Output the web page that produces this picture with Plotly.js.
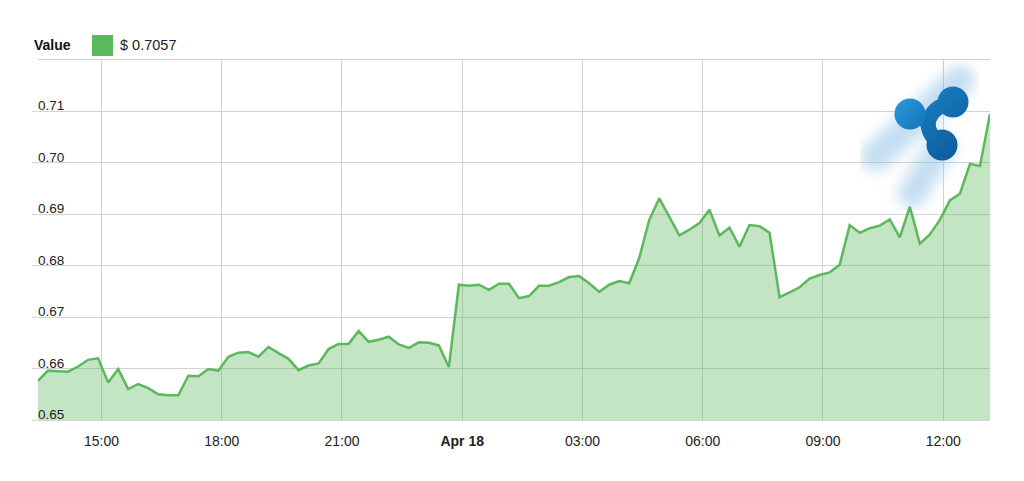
<!DOCTYPE html>
<html>
<head>
<meta charset="utf-8">
<script src="https://cdn.plot.ly/plotly-3.0.1.min.js"></script>
<style>
  html, body { margin: 0; padding: 0; background: #ffffff; }
  #chart { width: 1024px; height: 481px; }
</style>
</head>
<body>
<div id="chart"></div>
<script>
// ---- Data (XRP price in USD, 15-minute samples) ----
const times = [
  "2018-04-17 13:25","2018-04-17 13:40","2018-04-17 13:55","2018-04-17 14:10","2018-04-17 14:25","2018-04-17 14:40","2018-04-17 14:55","2018-04-17 15:10","2018-04-17 15:25","2018-04-17 15:40",
  "2018-04-17 15:55","2018-04-17 16:10","2018-04-17 16:25","2018-04-17 16:40","2018-04-17 16:55","2018-04-17 17:10","2018-04-17 17:25","2018-04-17 17:40","2018-04-17 17:55","2018-04-17 18:10",
  "2018-04-17 18:25","2018-04-17 18:40","2018-04-17 18:55","2018-04-17 19:10","2018-04-17 19:25","2018-04-17 19:40","2018-04-17 19:55","2018-04-17 20:10","2018-04-17 20:25","2018-04-17 20:40",
  "2018-04-17 20:55","2018-04-17 21:10","2018-04-17 21:25","2018-04-17 21:40","2018-04-17 21:55","2018-04-17 22:10","2018-04-17 22:25","2018-04-17 22:40","2018-04-17 22:55","2018-04-17 23:10",
  "2018-04-17 23:25","2018-04-17 23:40","2018-04-17 23:55","2018-04-18 00:10","2018-04-18 00:25","2018-04-18 00:40","2018-04-18 00:55","2018-04-18 01:10","2018-04-18 01:25","2018-04-18 01:40",
  "2018-04-18 01:55","2018-04-18 02:10","2018-04-18 02:25","2018-04-18 02:40","2018-04-18 02:55","2018-04-18 03:10","2018-04-18 03:25","2018-04-18 03:40","2018-04-18 03:55","2018-04-18 04:10",
  "2018-04-18 04:25","2018-04-18 04:40","2018-04-18 04:55","2018-04-18 05:10","2018-04-18 05:25","2018-04-18 05:40","2018-04-18 05:55","2018-04-18 06:10","2018-04-18 06:25","2018-04-18 06:40",
  "2018-04-18 06:55","2018-04-18 07:10","2018-04-18 07:25","2018-04-18 07:40","2018-04-18 07:55","2018-04-18 08:10","2018-04-18 08:25","2018-04-18 08:40","2018-04-18 08:55","2018-04-18 09:10",
  "2018-04-18 09:25","2018-04-18 09:40","2018-04-18 09:55","2018-04-18 10:10","2018-04-18 10:25","2018-04-18 10:40","2018-04-18 10:55","2018-04-18 11:10","2018-04-18 11:25","2018-04-18 11:40",
  "2018-04-18 11:55","2018-04-18 12:10","2018-04-18 12:25","2018-04-18 12:40","2018-04-18 12:55","2018-04-18 13:10"
];
const values = [
  0.6576,0.6596,0.6595,0.6594,0.6604,0.6617,0.6620,0.6573,0.6599,0.6560,
  0.6570,0.6562,0.6550,0.6548,0.6548,0.6586,0.6585,0.6599,0.6596,0.6623,
  0.6631,0.6632,0.6623,0.6642,0.6630,0.6619,0.6597,0.6606,0.6610,0.6638,
  0.6648,0.6648,0.6673,0.6652,0.6656,0.6662,0.6647,0.6640,0.6651,0.6650,
  0.6645,0.6603,0.6763,0.6761,0.6763,0.6753,0.6765,0.6765,0.6737,0.6741,
  0.6761,0.6761,0.6768,0.6778,0.6780,0.6766,0.6749,0.6763,0.6770,0.6766,
  0.6815,0.6889,0.6931,0.6896,0.6859,0.6870,0.6883,0.6909,0.6859,0.6874,
  0.6837,0.6879,0.6877,0.6864,0.6739,0.6748,0.6758,0.6775,0.6782,0.6787,
  0.6802,0.6879,0.6864,0.6873,0.6878,0.6890,0.6855,0.6915,0.6843,0.6861,
  0.6889,0.6927,0.6940,0.6998,0.6994,0.7095
];
const xTickVals = ["2018-04-17 15:00","2018-04-17 18:00","2018-04-17 21:00","2018-04-18 00:00","2018-04-18 03:00","2018-04-18 06:00","2018-04-18 09:00","2018-04-18 12:00"];
const xTickText = ["15:00","18:00","21:00","<b>Apr 18</b>","03:00","06:00","09:00","12:00"];
const yTickVals = [0.65,0.66,0.67,0.68,0.69,0.70,0.71];
const yTickText = ["0.65","0.66","0.67","0.68","0.69","0.70","0.71"];
const seriesLabel = "Value";
const currentValue = "0.7057";

// ---- Styles ----
const GREEN = "#5cb85c";
const GRID = "#d2d2d2";
const FONT = "Liberation Sans, Arial, sans-serif";

// Ripple logo (decoration) as inline SVG; origin of the box is at page (860, 60)
const logoSvg =
  "<svg xmlns='http://www.w3.org/2000/svg' width='120' height='150' viewBox='0 0 120 150'>" +
  "<defs><filter id='b' x='-50%' y='-50%' width='200%' height='200%'><feGaussianBlur stdDeviation='7'/></filter>" +
  "<linearGradient id='g1' x1='0' y1='0' x2='1' y2='1'><stop offset='0' stop-color='#2a9ad9'/><stop offset='1' stop-color='#1673b9'/></linearGradient>" +
  "<linearGradient id='g2' gradientUnits='userSpaceOnUse' x1='40' y1='30' x2='100' y2='100'><stop offset='0' stop-color='#1d86cb'/><stop offset='1' stop-color='#0c5a98'/></linearGradient></defs>" +
  "<g filter='url(#b)' stroke-linecap='round'>" +
  "<line x1='100' y1='20' x2='16' y2='96' stroke='rgba(125,182,224,0.45)' stroke-width='30'/>" +
  "<line x1='82' y1='86' x2='52' y2='134' stroke='rgba(125,182,224,0.45)' stroke-width='28'/>" +
  "</g>" +
  "<g stroke='url(#g2)' stroke-width='15' stroke-linecap='round' fill='none'>" +
  "<path d='M50 54 Q62 56 68 63'/><path d='M93 42 Q72 46 68 63'/><path d='M82 85 Q68 76 68 63'/>" +
  "</g>" +
  "<circle cx='50' cy='54' r='15.5' fill='url(#g1)'/>" +
  "<circle cx='93' cy='42' r='15.5' fill='url(#g2)'/>" +
  "<circle cx='82' cy='85' r='15.5' fill='url(#g2)'/>" +
  "</svg>";
const logoSrc = "data:image/svg+xml;charset=utf-8," + encodeURIComponent(logoSvg);

const trace = {
  x: times,
  y: values,
  type: "scatter",
  mode: "lines",
  line: { color: GREEN, width: 2.5 },
  fill: "tozeroy",
  fillcolor: "rgba(92,184,92,0.36)",
  hoverinfo: "x+y",
  showlegend: false
};

// y-axis labels sit just above their gridlines, inside the plot
const yLabelAnnotations = yTickVals.map((v, i) => ({
  xref: "paper", yref: "y", x: 0, y: v,
  xanchor: "left", yanchor: "bottom", yshift: -4, xshift: -2,
  showarrow: false, text: yTickText[i],
  font: { family: FONT, size: 13.5, color: "#222222" }
}));

const layout = {
  width: 1024,
  height: 481,
  margin: { l: 38, r: 34, t: 60, b: 61 },
  paper_bgcolor: "#ffffff",
  plot_bgcolor: "#ffffff",
  font: { family: FONT, color: "#222222", size: 13 },
  showlegend: false,
  xaxis: {
    type: "date",
    range: [times[0], times[times.length - 1]],
    tickvals: xTickVals,
    ticktext: xTickText,
    showgrid: true,
    gridcolor: GRID,
    gridwidth: 1,
    zeroline: false,
    showline: true,
    mirror: true,
    linecolor: GRID,
    linewidth: 1,
    ticks: "outside",
    ticklen: 8,
    tickcolor: "rgba(0,0,0,0)",
    tickfont: { family: FONT, size: 14, color: "#222222" }
  },
  yaxis: {
    range: [0.65, 0.72],
    tickvals: yTickVals,
    showticklabels: false,
    showgrid: true,
    gridcolor: GRID,
    gridwidth: 1,
    zeroline: false,
    showline: false,
    ticks: "outside",
    ticklen: 5,
    tickcolor: GRID
  },
  shapes: [
    { type: "rect", xref: "paper", yref: "paper",
      x0: (92 - 38) / 952, x1: (113 - 38) / 952,
      y0: 1 + (60 - 56) / 360, y1: 1 + (60 - 35) / 360,
      fillcolor: GREEN, line: { width: 0 } }
  ],
  annotations: [
    { xref: "paper", yref: "paper", x: (32 - 38) / 952, y: 1 + (60 - 45) / 360,
      xanchor: "left", yanchor: "middle", showarrow: false,
      text: "<b>" + seriesLabel + "</b>", font: { family: FONT, size: 14, color: "#111111" } },
    { xref: "paper", yref: "paper", x: (118 - 38) / 952, y: 1 + (60 - 45) / 360,
      xanchor: "left", yanchor: "middle", showarrow: false,
      text: "$ " + currentValue, font: { family: FONT, size: 14.5, color: "#222222" } }
  ].concat(yLabelAnnotations),
  images: [
    { source: logoSrc, xref: "paper", yref: "paper",
      x: (860 - 38) / 952, y: 1,
      sizex: 120 / 952, sizey: 150 / 360,
      xanchor: "left", yanchor: "top", sizing: "stretch", layer: "above" }
  ]
};

Plotly.newPlot("chart", [trace], layout, { displayModeBar: false, staticPlot: true });
</script>
</body>
</html>
